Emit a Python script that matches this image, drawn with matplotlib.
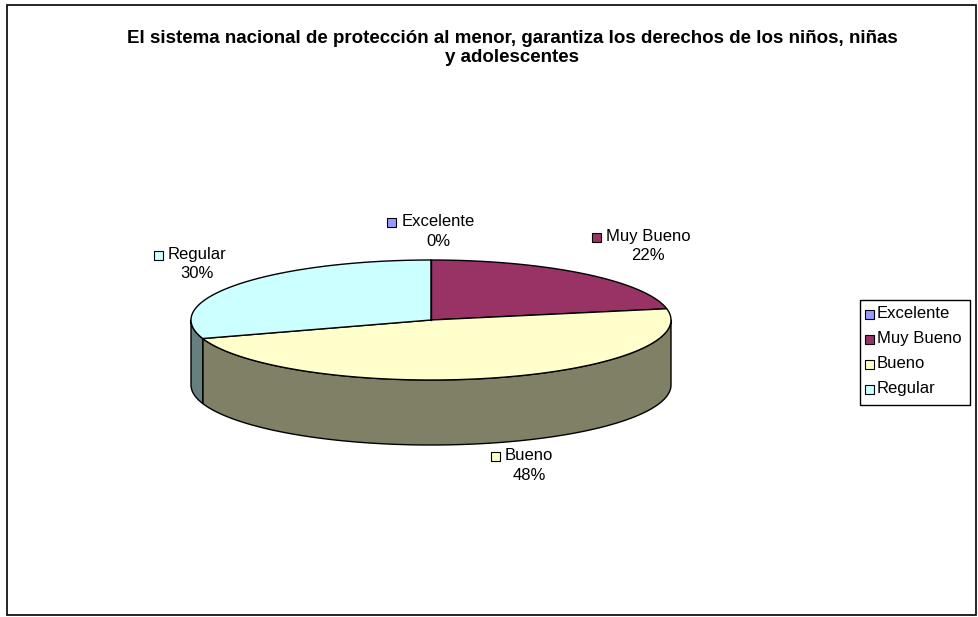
import numpy as np
import matplotlib
matplotlib.use("Agg")
import matplotlib.pyplot as plt
from matplotlib.patches import Rectangle, Polygon

categories = ["Excelente", "Muy Bueno", "Bueno", "Regular"]
values = [0, 22, 48, 30]
pct_labels = ["0%", "22%", "48%", "30%"]
colors = ["#9999FF", "#993366", "#FFFFCC", "#CCFFFF"]
title = "El sistema nacional de protección al menor, garantiza los derechos de los niños, niñas\ny adolescentes"

plt.rcParams['font.family'] = ['Liberation Sans', 'DejaVu Sans']

W, H = 979, 617
fig = plt.figure(figsize=(W / 100, H / 100), dpi=100)
ax = fig.add_axes([0, 0, 1, 1])
ax.set_xlim(0, W)
ax.set_ylim(H, 0)
ax.axis('off')

# outer chart border
ax.add_patch(Rectangle((7, 5), 969, 610, fill=False, edgecolor='black', lw=1.2))

ax.text(512, 48, title, ha='center', va='center', fontsize=13.5, fontweight='bold',
        linespacing=1.2)

# pie geometry (pixel space)
cx, cy, a, b, depth = 431, 320, 240, 60, 65

def pt(t, dy=0.0):
    return cx + a * np.cos(np.radians(t)), cy - b * np.sin(np.radians(t)) + dy

def darker(c, f=0.5):
    rgb = matplotlib.colors.to_rgb(c)
    return tuple(v * f for v in rgb)

total = float(sum(values))
angles = []
start = 90.0
for v in values:
    sweep = 360.0 * v / total
    angles.append((start - sweep, start))
    start -= sweep

# walls (front half)
for (lo, hi), col in zip(angles, colors):
    for k in (-1, 0, 1):
        s_lo = max(lo, -180 + 360 * k)
        s_hi = min(hi, 0 + 360 * k)
        if s_hi - s_lo <= 1e-6:
            continue
        ts = np.linspace(s_lo, s_hi, 200)
        top = [pt(t) for t in ts]
        bot = [pt(t, depth) for t in ts[::-1]]
        ax.add_patch(Polygon(top + bot, closed=True, facecolor=darker(col),
                             edgecolor='black', lw=1.0, joinstyle='round'))

# top faces
for (lo, hi), col, v in zip(angles, colors, values):
    if v <= 0:
        ax.plot(*zip((cx, cy), pt(hi)), color='black', lw=1.0)
        continue
    ts = np.linspace(hi, lo, 300)
    poly = [(cx, cy)] + [pt(t) for t in ts]
    ax.add_patch(Polygon(poly, closed=True, facecolor=col, edgecolor='black',
                         lw=1.0, joinstyle='round'))

# data labels (text positions are layout)
label_pos = {"Excelente": (438, 222), "Muy Bueno": (648, 237),
             "Bueno": (529, 456), "Regular": (197, 255)}
fs = 12
fig.canvas.draw()
rend = fig.canvas.get_renderer()
inv = ax.transData.inverted()
for cat, pct, col in zip(categories, pct_labels, colors):
    x, y = label_pos[cat]
    t1 = ax.text(x, y, cat, ha='center', va='center', fontsize=fs)
    ax.text(x, y + 19, pct, ha='center', va='center', fontsize=fs)
    bb = t1.get_window_extent(rend)
    x0 = inv.transform((bb.x0, bb.y0))[0]
    ax.add_patch(Rectangle((x0 - 14, y - 4.5), 9, 9, facecolor=col, edgecolor='black', lw=0.8))

# legend
ax.add_patch(Rectangle((860, 300), 110, 105, fill=False, edgecolor='black', lw=1.0))
for i, (cat, col) in enumerate(zip(categories, colors)):
    y = 314 + 25 * i
    ax.add_patch(Rectangle((865, y - 4.5), 9, 9, facecolor=col, edgecolor='black', lw=0.8))
    ax.text(877, y, cat, ha='left', va='center', fontsize=fs)

fig.savefig("out.png", dpi=100)
